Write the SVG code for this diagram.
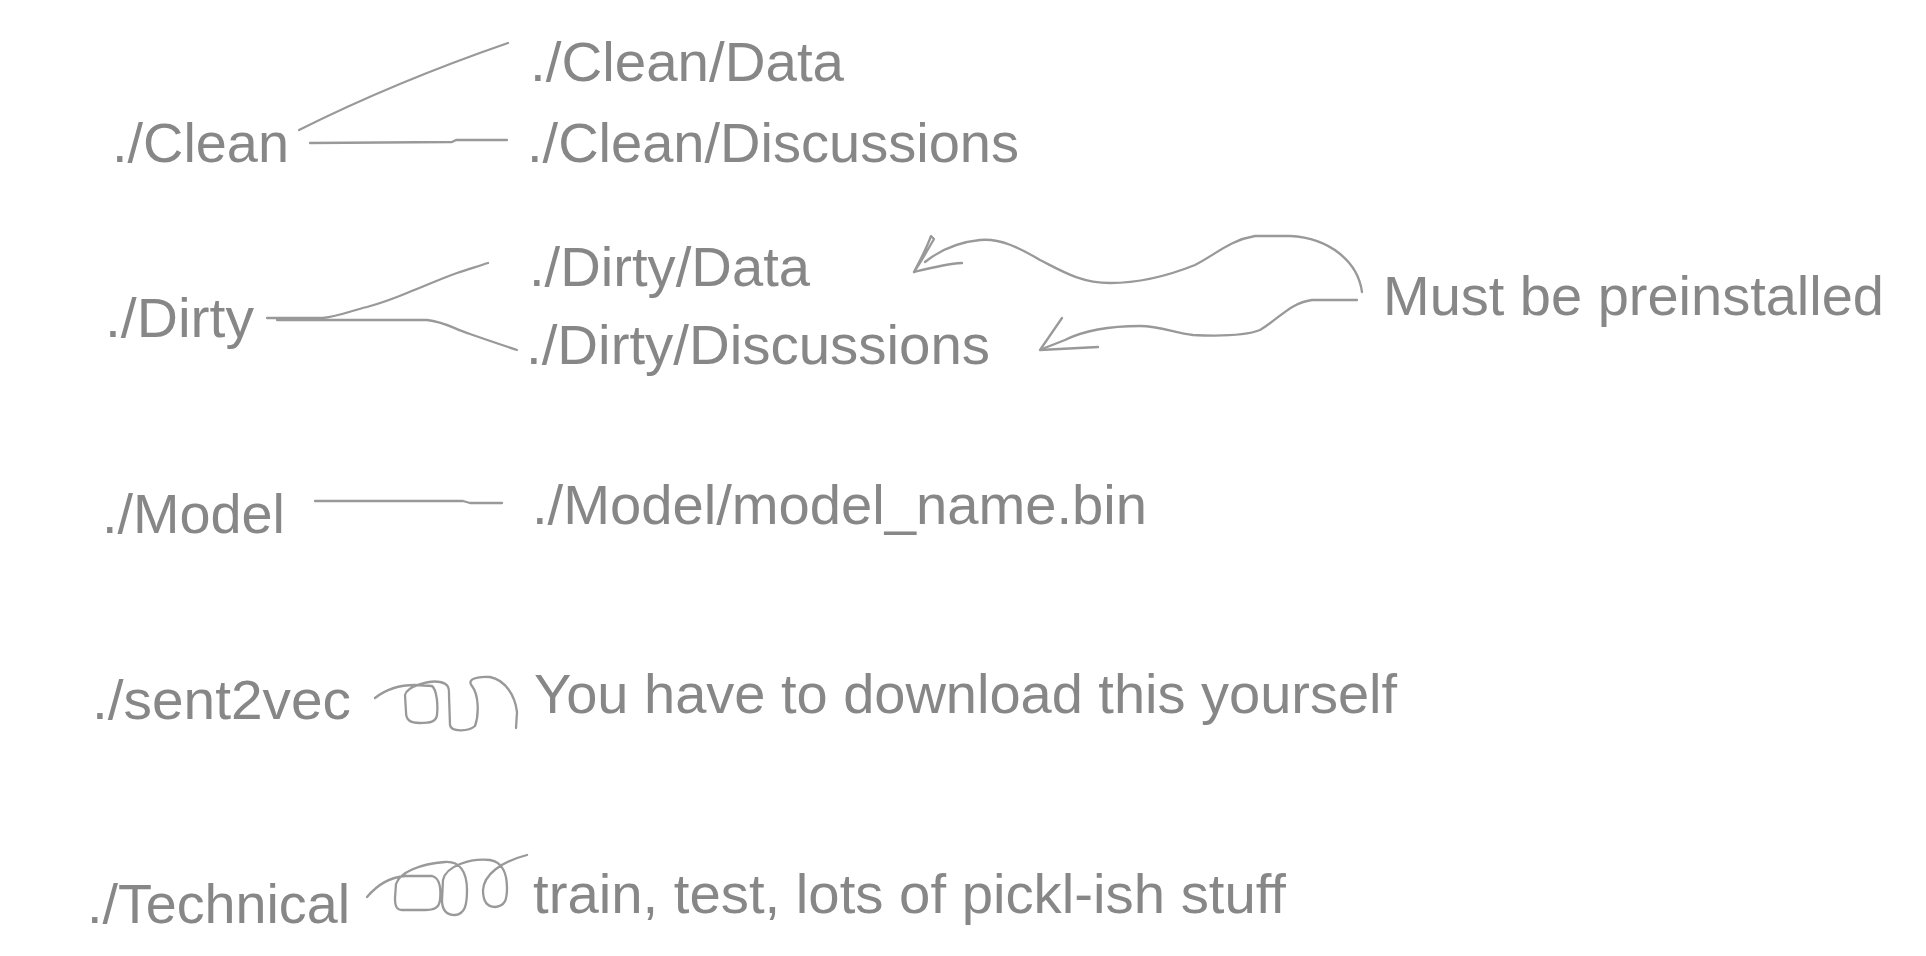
<svg xmlns="http://www.w3.org/2000/svg" width="1926" height="956" viewBox="0 0 1926 956">
<style>
.t{font-family:"Liberation Sans",Arial,Helvetica,sans-serif;font-size:56px;fill:#878787}
.c{fill:none;stroke:#999999;stroke-width:2.3;stroke-linecap:round;stroke-linejoin:round}
</style>
<rect width="1926" height="956" fill="#ffffff"/>
<g id="connectors">
<path class="c" d="M299,130 Q395,82 508,43"/>
<path class="c" d="M310,143 L452,142 L456,140 L507,140"/>
<path class="c" d="M267,318 L323,318 C340,316 350,311 367,307 C385,302 395,298 407,293 C425,286 440,279 457,273 C470,269 478,266 488,263"/>
<path class="c" d="M277,320 L427,320 C445,322 452,328 470,334 C490,341 505,346 517,350"/>
<path class="c" d="M315,501 L463,501 L470,503 L502,503"/>
<path class="c" d="M1362,292 C1358,262 1330,238 1290,236 L1255,236 C1230,240 1215,255 1195,265 C1170,275 1140,283 1110,283 C1080,283 1060,270 1040,260 C1020,248 1000,238 980,240 C960,242 940,250 925,262"/>
<path class="c" d="M931,236 C926,250 919,262 914,272 C921,262 927,251 934,239 Z"/>
<path class="c" d="M914,272 C930,268 945,264 962,263"/>
<path class="c" d="M1357,300 L1312,300 C1290,303 1280,318 1260,330 C1245,336 1215,336 1193,335 C1175,333 1160,326 1140,326 C1110,326 1085,330 1065,340 L1042,349"/>
<path class="c" d="M1062,318 L1040,350 L1098,347"/>
<path class="c" d="M375,698 C385,690 400,685 415,685 L432,686 C437,690 438,705 437,715 C436,722 430,723 420,723 C410,723 406,720 406,712 L405,695 C407,686 430,680 440,682 C450,684 449,690 449,695 L450,725 C451,732 468,732 475,726 C479,715 479,695 472,686 C466,679 478,676 490,677 C505,680 515,695 517,712 L516,728"/>
<path class="c" d="M367,897 C378,884 392,877 405,876 L432,876 C440,878 441,890 440,900 C439,908 434,910 425,910 L402,910 C396,910 395,905 395,898 L396,884 C400,872 420,864 445,862 C460,861 467,872 467,890 C467,905 465,914 455,915 C446,915 442,910 442,900 L443,880 C446,866 470,858 490,860 C503,862 507,875 507,888 C507,900 505,906 495,907 C486,907 483,900 483,890 C484,875 500,862 527,855"/>
</g>
<g id="clean"><text class="t" x="112" y="162" textLength="177" lengthAdjust="spacingAndGlyphs">./Clean</text></g>
<g id="clean-data"><text class="t" x="530" y="81" textLength="314" lengthAdjust="spacingAndGlyphs">./Clean/Data</text></g>
<g id="clean-discussions"><text class="t" x="527" y="162" textLength="492" lengthAdjust="spacingAndGlyphs">./Clean/Discussions</text></g>
<g id="dirty"><text class="t" x="105" y="337" textLength="149" lengthAdjust="spacingAndGlyphs">./Dirty</text></g>
<g id="dirty-data"><text class="t" x="529" y="286" textLength="281" lengthAdjust="spacingAndGlyphs">./Dirty/Data</text></g>
<g id="dirty-discussions"><text class="t" x="526" y="364" textLength="464" lengthAdjust="spacingAndGlyphs">./Dirty/Discussions</text></g>
<g id="preinstalled"><text class="t" x="1383" y="315" textLength="501" lengthAdjust="spacingAndGlyphs">Must be preinstalled</text></g>
<g id="model"><text class="t" x="102" y="533" textLength="183" lengthAdjust="spacingAndGlyphs">./Model</text></g>
<g id="model-bin"><text class="t" x="532" y="524" textLength="615" lengthAdjust="spacingAndGlyphs">./Model/model_name.bin</text></g>
<g id="sent2vec"><text class="t" x="92" y="719" textLength="259" lengthAdjust="spacingAndGlyphs">./sent2vec</text></g>
<g id="download"><text class="t" x="534" y="713" textLength="863" lengthAdjust="spacingAndGlyphs">You have to download this yourself</text></g>
<g id="technical"><text class="t" x="87" y="923" textLength="263" lengthAdjust="spacingAndGlyphs">./Technical</text></g>
<g id="pickle"><text class="t" x="533" y="913" textLength="753" lengthAdjust="spacingAndGlyphs">train, test, lots of pickl-ish stuff</text></g>
</svg>
